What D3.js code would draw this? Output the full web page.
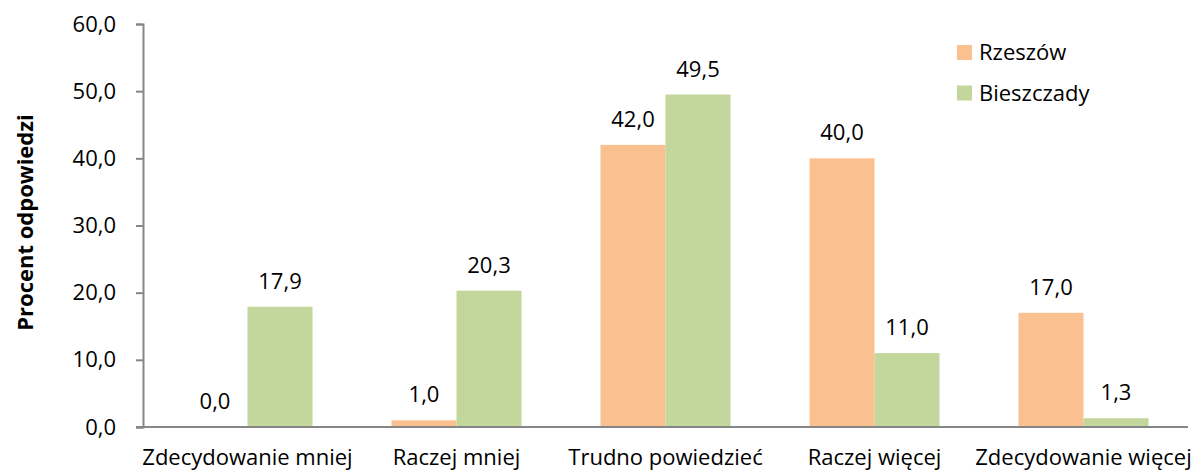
<!DOCTYPE html>
<html><head><meta charset="utf-8">
<script src="https://cdn.jsdelivr.net/npm/d3@7"></script>
<style>body{margin:0;background:#fff}svg text{font-family:"Open Sans","Noto Sans",sans-serif}</style>
</head><body>
<svg id="c" width="1197" height="473"></svg>
<script>
const categories = ["Zdecydowanie mniej","Raczej mniej","Trudno powiedzieć","Raczej więcej","Zdecydowanie więcej"];
const seriesNames = ["Rzeszów","Bieszczady"];
const rzeszow = [0.0, 1.0, 42.0, 40.0, 17.0];
const bieszczady = [17.9, 20.3, 49.5, 11.0, 1.3];
const yTicks = [0,10,20,30,40,50,60];
const colors = ["#FAC090","#C3D69B"];

const svg = d3.select("#c");
const m = {l:143, r:1188, t:24, b:427};
const x0 = d3.scaleBand().domain(categories).range([m.l, m.r]).paddingInner(0).paddingOuter(0);
const groupW = 130;
const x1 = d3.scaleBand().domain(seriesNames).range([0, groupW]);
const y = d3.scaleLinear().domain([0,60]).range([m.b, m.t]);
const fmt = v => d3.format(".1f")(v).replace(".", ",");
const fs = 22;
const ff = '"Open Sans",sans-serif';

// Y axis
const yAxis = d3.axisLeft(y).tickValues(yTicks).tickFormat(fmt).tickSizeOuter(0).tickSize(7).tickPadding(20);
const gy = svg.append("g").attr("transform",`translate(${m.l},0)`).call(yAxis);
gy.selectAll("path,line").attr("stroke","#868686").attr("stroke-width",2);
gy.selectAll("text").attr("font-size",fs).attr("fill","#000").style("font-family",ff);

// X axis
const xAxis = d3.axisBottom(x0).tickSize(0).tickSizeOuter(0).tickPadding(22);
const gx = svg.append("g").attr("transform",`translate(0,${m.b})`).call(xAxis);
gx.select("path").attr("stroke","#868686").attr("stroke-width",2).attr("d",`M${m.l-7},0H${m.r}`);
gx.selectAll("text").attr("font-size",fs).attr("fill","#000").style("font-family",ff);

const data = categories.map((c,i)=>({c, vals:[rzeszow[i], bieszczady[i]]}));
const g = svg.append("g");
data.forEach(d=>{
  const gx0 = x0(d.c) + (x0.bandwidth()-groupW)/2;
  d.vals.forEach((v,j)=>{
    const bx = gx0 + x1(seriesNames[j]);
    g.append("rect").attr("x",bx).attr("y",y(v)).attr("width",x1.bandwidth()).attr("height",m.b - y(v)).attr("fill",colors[j]);
    g.append("text").attr("x",bx + x1.bandwidth()/2).attr("y",y(v)-18).attr("text-anchor","middle")
      .attr("font-size",fs).attr("fill","#000").text(fmt(v));
  });
});

// axis line on top of bars
svg.append("line").attr("x1",m.l-7).attr("x2",m.r).attr("y1",m.b).attr("y2",m.b).attr("stroke","#868686").attr("stroke-width",2);

// Y title
svg.append("text").attr("transform",`translate(33,${(113+332)/2}) rotate(-90)`).attr("text-anchor","middle")
  .attr("font-size",22).attr("font-weight","bold").attr("fill","#000").text("Procent odpowiedzi");

// Legend
const lg = svg.append("g");
seriesNames.forEach((s,i)=>{
  lg.append("rect").attr("x",957).attr("y",45+i*40.5).attr("width",15).attr("height",15).attr("fill",colors[i]);
  lg.append("text").attr("x",979).attr("y",60+i*40.5).attr("font-size",fs).attr("fill","#000").text(s);
});
</script>
</body></html>
